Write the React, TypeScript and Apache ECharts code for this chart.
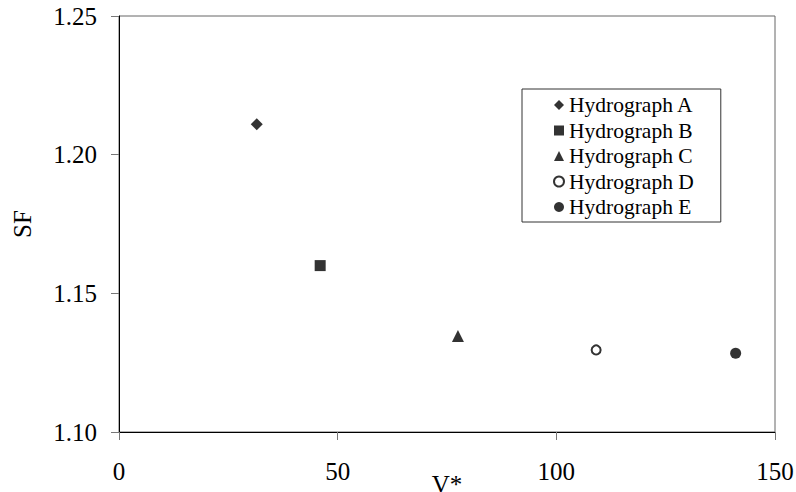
import React, { useEffect, useRef } from "react";
import * as echarts from "echarts";

const seriesNames = ["Hydrograph A", "Hydrograph B", "Hydrograph C", "Hydrograph D", "Hydrograph E"];
const vStar = [31.5, 46, 77.5, 109.1, 141];
const sfValues = [1.211, 1.16, 1.1346, 1.1296, 1.1284];
const symbols = ["diamond", "rect", "triangle", "emptyCircle", "circle"];
const symbolSizes = [12, 11, 12, 9, 11];

const FONT = "'Liberation Serif', 'Times New Roman', serif";

export default function App() {
  const ref = useRef<HTMLDivElement>(null);
  useEffect(() => {
    if (!ref.current) return;
    const chart = echarts.init(ref.current, null, { renderer: "svg" });
    chart.setOption({
      animation: false,
      backgroundColor: "#fff",
      textStyle: { fontFamily: FONT },
      grid: {
        left: 119,
        top: 16,
        right: 21,
        bottom: 60,
        outerBoundsMode: "none",
        containLabel: false,
        show: true,
        borderColor: "#666",
        borderWidth: 1,
        backgroundColor: "transparent",
      },
      legend: {
        orient: "vertical",
        left: 522,
        top: 89,
        padding: [5, 27, 4, 31],
        borderColor: "#333",
        borderWidth: 1,
        backgroundColor: "#fff",
        itemWidth: 10,
        itemHeight: 10,
        itemGap: 3.5,
        textStyle: { fontFamily: FONT, fontSize: 21.5, color: "#000", lineHeight: 22 },
        data: seriesNames,
      },
      xAxis: {
        type: "value",
        min: 0,
        max: 150,
        interval: 50,
        name: "V*",
        nameLocation: "middle",
        nameGap: 40,
        nameMoveOverlap: false,
        nameTextStyle: { fontFamily: FONT, fontSize: 25, color: "#000" },
        axisLine: { show: true, onZero: false, lineStyle: { color: "#000", width: 1 } },
        axisTick: { show: true, length: 8, lineStyle: { color: "#777" } },
        axisLabel: { fontFamily: FONT, fontSize: 25, color: "#000", margin: 27 },
        splitLine: { show: false },
      },
      yAxis: {
        type: "value",
        min: 1.1,
        max: 1.25,
        interval: 0.05,
        name: "SF",
        nameLocation: "middle",
        nameGap: 84,
        nameMoveOverlap: false,
        nameTextStyle: { fontFamily: FONT, fontSize: 25, color: "#000" },
        axisLine: { show: true, onZero: false, lineStyle: { color: "#000", width: 1 } },
        axisTick: { show: true, length: 8, lineStyle: { color: "#777" } },
        axisLabel: {
          fontFamily: FONT,
          fontSize: 25,
          color: "#000",
          margin: 22,
          formatter: (v: number) => v.toFixed(2),
        },
        splitLine: { show: false },
      },
      series: seriesNames.map((name, i) => ({
        name,
        type: "scatter",
        symbol: symbols[i],
        symbolSize: symbolSizes[i],
        itemStyle:
          symbols[i] === "emptyCircle"
            ? { color: "#000", borderColor: "#000", borderWidth: 3 }
            : { color: "#000", borderWidth: 0 },
        data: [[vStar[i], sfValues[i]]],
      })),
    });
    return () => chart.dispose();
  }, []);
  return <div ref={ref} style={{ width: 796, height: 492, position: "absolute", left: 0, top: 0 }} />;
}
